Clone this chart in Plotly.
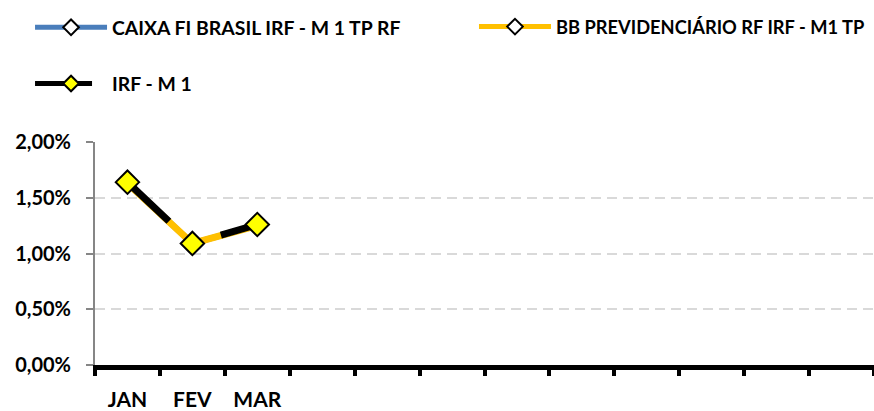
import plotly.graph_objects as go

months = ["JAN", "FEV", "MAR", "ABR", "MAI", "JUN", "JUL", "AGO", "SET", "OUT", "NOV", "DEZ"]
tick_labels = ["JAN", "FEV", "MAR", "", "", "", "", "", "", "", "", ""]
observed = ["JAN", "FEV", "MAR"]

caixa = [0.0163, 0.0109, 0.0125]
bb = [0.0163, 0.0109, 0.0125]
irf = [0.0164, 0.0109, 0.0126]

y_ticks = [0.0, 0.005, 0.01, 0.015, 0.02]

FONT = "Lato"

fig = go.Figure()
fig.add_trace(go.Scatter(
    x=observed, y=caixa, name="CAIXA FI BRASIL IRF - M 1 TP RF",
    mode="lines+markers", legend="legend", legendgroup="a",
    line=dict(color="#4A7EBB", width=6),
    marker=dict(symbol="diamond", size=8, color="white", line=dict(color="black", width=2)),
))
fig.add_trace(go.Scatter(
    x=observed, y=bb, name="BB PREVIDENCIÁRIO RF IRF - M1 TP",
    mode="lines+markers", legend="legend2",
    line=dict(color="#FFC000", width=7),
    marker=dict(symbol="diamond", size=8, color="white", line=dict(color="black", width=2)),
))
fig.add_trace(go.Scatter(
    x=observed, y=irf, name="IRF - M 1",
    mode="lines+markers", legend="legend", legendgroup="c",
    line=dict(color="black", width=7, dash="57px,62px"),
    marker=dict(symbol="diamond", size=18, color="#FFFF00", line=dict(color="black", width=2)),
))

fig.update_layout(
    width=874, height=411,
    margin=dict(l=95, r=0, t=142, b=44),
    paper_bgcolor="white", plot_bgcolor="white",
    separators=",.",
    legend=dict(
        x=-0.0834, xanchor="left", y=1.6, yanchor="top",
        orientation="v", traceorder="grouped", tracegroupgap=28,
        itemwidth=72, itemsizing="constant",
        font=dict(family=FONT, size=19.4, color="black", weight="bold"),
        bgcolor="rgba(0,0,0,0)",
    ),
    legend2=dict(
        x=0.4865, xanchor="left", y=1.6, yanchor="top",
        orientation="v", itemwidth=72, itemsizing="constant",
        font=dict(family=FONT, size=18.3, color="black", weight="bold"),
        bgcolor="rgba(0,0,0,0)",
    ),
    xaxis=dict(
        type="category", categoryorder="array", categoryarray=months,
        range=[-0.5, len(months) - 0.5],
        tickmode="array", tickvals=months, ticktext=tick_labels,
        tickson="boundaries", ticks="outside", ticklen=6, tickwidth=4, tickcolor="black",
        showline=True, linecolor="black", linewidth=5,
        showgrid=False, zeroline=False,
        tickfont=dict(family=FONT, size=21, color="black", weight="bold"),
        ticklabelstandoff=12,
    ),
    yaxis=dict(
        range=[0, 0.02], tickmode="array", tickvals=y_ticks, tickformat=".2%",
        showline=True, linecolor="#868686", linewidth=2,
        ticks="outside", ticklen=7, tickwidth=2, tickcolor="#868686",
        showgrid=True, gridcolor="#D9D9D9", gridwidth=2, griddash="10px,6px",
        zeroline=False,
        tickfont=dict(family=FONT, size=20, color="black", weight="bold"),
        ticklabelstandoff=11,
    ),
)

fig.write_html(
    "out.html",
    config={"displayModeBar": False},
    post_script="document.body.style.margin='0';document.body.style.overflow='hidden';",
)
